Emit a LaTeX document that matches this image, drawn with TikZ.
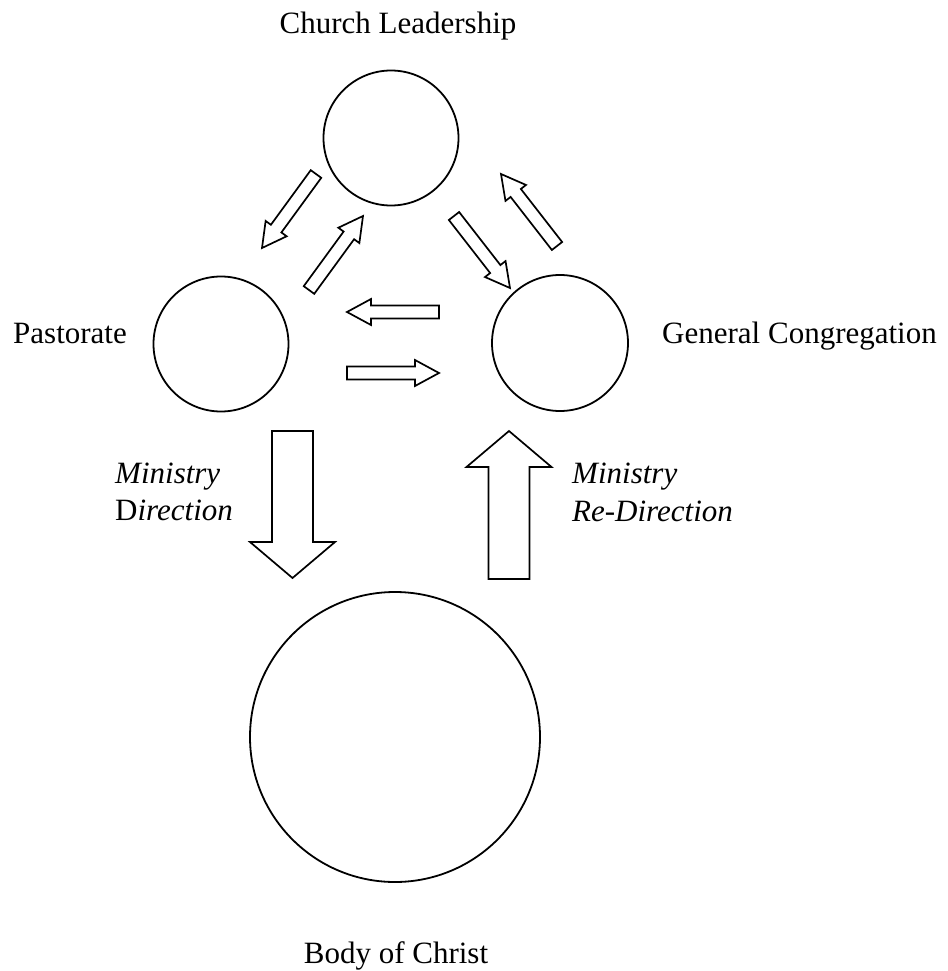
\documentclass[tikz,border=0pt]{standalone}
\usepackage{fontspec}
\setmainfont{Liberation Serif}
\usetikzlibrary{calc}
\tikzset{
  ring/.style={draw, circle, line width=1.8pt, inner sep=0pt},
  lbl/.style={inner sep=0pt, font=\fontsize{31}{37}\selectfont},
  arrowline/.style={draw, line width=1.7pt, line join=miter, fill=white},
}
% block arrow from tail #1 to tip #2; shaft half-width #3, head half-width #4, head length #5
\newcommand\blk[5]{%
  \draw[arrowline]
    ($(#1)!#3!90:(#2)$) --
    ($(#2)!#5!(#1)!#3!-90:(#1)$) --
    ($(#2)!#5!(#1)!#4!-90:(#1)$) --
    (#2) --
    ($(#2)!#5!(#1)!#4!90:(#1)$) --
    ($(#2)!#5!(#1)!#3!90:(#1)$) --
    ($(#1)!#3!-90:(#2)$) -- cycle;}
\begin{document}
\begin{tikzpicture}[x=1pt,y=-1pt]
\useasboundingbox (0,0) rectangle (947,971);
% circles
\node[ring, minimum size=135pt] (lead) at (391,138) {};
\node[ring, minimum size=135pt] (past) at (221,344) {};
\node[ring, minimum size=136pt] (cong) at (560,343) {};
\node[ring, minimum size=290pt] (body) at (395,737) {};
% labels
\node[lbl, anchor=base] (tlead) at (398,34) {Church Leadership};
\node[lbl, anchor=base west] (tpast) at (13,343) {Pastorate};
\node[lbl, anchor=base west] (tcong) at (662,343) {General Congregation};
\node[lbl, anchor=base] (tbody) at (396,963) {Body of Christ};
\node[lbl, anchor=base west] (tmd1) at (115,483) {\textit{Ministry}};
\node[lbl, anchor=base west] (tmd2) at (115,520) {D\textit{irection}};
\node[lbl, anchor=base west] (tmr1) at (572,483) {\textit{Ministry}};
\node[lbl, anchor=base west] (tmr2) at (572,521) {\textit{Re-Direction}};
% arrow end points
\coordinate (a1t) at (316,174); \coordinate (a1h) at (262,248);
\coordinate (a2t) at (309,290); \coordinate (a2h) at (363,216);
\coordinate (a3t) at (454,216); \coordinate (a3h) at (510,288);
\coordinate (a4t) at (557,246); \coordinate (a4h) at (501,174);
\coordinate (a5t) at (439,312); \coordinate (a5h) at (347,312);
\coordinate (a6t) at (347,373); \coordinate (a6h) at (439,373);
\coordinate (b1t) at (292.5,431); \coordinate (b1h) at (292.5,578);
\coordinate (b2t) at (509,579); \coordinate (b2h) at (509,431);
% small arrows
\blk{a1t}{a1h}{6.5pt}{13pt}{24pt}
\blk{a2t}{a2h}{6.5pt}{13pt}{24pt}
\blk{a3t}{a3h}{6.5pt}{13pt}{24pt}
\blk{a4t}{a4h}{6.5pt}{13pt}{24pt}
\blk{a5t}{a5h}{6.5pt}{13pt}{24pt}
\blk{a6t}{a6h}{6.5pt}{13pt}{24pt}
% big arrows
\blk{b1t}{b1h}{20.5pt}{42.5pt}{36pt}
\blk{b2t}{b2h}{20.5pt}{42.5pt}{36pt}
\end{tikzpicture}
\end{document}
